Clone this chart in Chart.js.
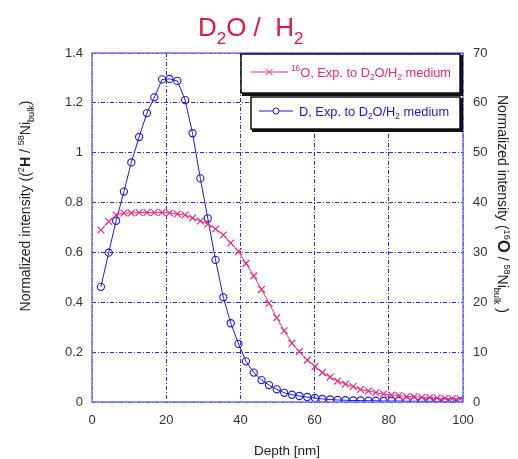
<!DOCTYPE html>
<html>
<head>
<meta charset="utf-8">
<script src="https://cdn.jsdelivr.net/npm/chart.js@4.4.1/dist/chart.umd.min.js"></script>
<style>
  html, body { margin: 0; padding: 0; background: #fff; }
  #wrap { width: 518px; height: 459px; }
</style>
</head>
<body>
<div id="wrap"><canvas id="chart" width="518" height="459"></canvas></div>
<script>
const depth = [2.4, 4.5, 6.5, 8.6, 10.6, 12.7, 14.8, 16.8, 18.9, 20.9, 23.0, 25.1, 27.1, 29.2, 31.2, 33.3,
  35.4, 37.4, 39.5, 41.5, 43.6, 45.7, 47.7, 49.8, 51.8, 53.9, 55.9, 58.0, 60.1, 62.1, 64.2, 66.2,
  68.3, 70.4, 72.4, 74.5, 76.5, 78.6, 80.7, 82.7, 84.8, 86.8, 88.9, 91.0, 93.0, 95.1, 97.1, 99.2];

// D (left axis)
const deuterium = [0.462, 0.599, 0.727, 0.844, 0.961, 1.063, 1.159, 1.222, 1.294, 1.296, 1.288, 1.211, 1.078, 0.897, 0.737, 0.570,
  0.420, 0.316, 0.233, 0.163, 0.118, 0.088, 0.068, 0.051, 0.037, 0.029, 0.024, 0.020, 0.016, 0.012, 0.010, 0.008,
  0.007, 0.006, 0.006, 0.005, 0.005, 0.004, 0.004, 0.004, 0.003, 0.003, 0.003, 0.003, 0.002, 0.002, 0.002, 0.002];

// 16O (right axis)
const oxygen16 = [34.5, 36.2, 37.5, 37.9, 37.9, 38.0, 38.0, 38.0, 38.0, 37.9, 37.7, 37.5, 36.9, 36.3, 35.7, 34.7,
  33.5, 31.9, 30.2, 27.8, 25.3, 22.6, 19.8, 16.9, 14.3, 11.8, 10.1, 8.4, 7.1, 5.9, 5.0, 4.2,
  3.6, 3.1, 2.5, 2.2, 1.9, 1.6, 1.4, 1.3, 1.1, 1.05, 0.95, 0.9, 0.8, 0.75, 0.65, 0.65];

const xTicks = ['0', '20', '40', '60', '80', '100'];
const leftTicks = ['0', '0.2', '0.4', '0.6', '0.8', '1', '1.2', '1.4'];
const rightTicks = ['0', '10', '20', '30', '40', '50', '60', '70'];

const PINK = '#ec2a80';
const BLUE = '#1a1ae6';
const GRID = '#2a2aee';
const FONT = '"Liberation Sans", Arial, sans-serif';

// draws a run of text pieces, some raised, lowered or bold
function richWidth(ctx, segs, size) {
  let w = 0;
  segs.forEach(s => {
    const sz = s.s ? size * 0.65 : (s.big ? size * 1.2 : size);
    ctx.font = (s.b ? 'bold ' : '') + sz + 'px ' + FONT;
    w += ctx.measureText(s.t).width;
  });
  return w;
}
function drawRich(ctx, x, y, segs, size, color, align) {
  let cx = align === 'center' ? x - richWidth(ctx, segs, size) / 2 : x;
  ctx.fillStyle = color;
  ctx.textBaseline = 'alphabetic';
  ctx.textAlign = 'left';
  segs.forEach(s => {
    const sz = s.s ? size * 0.65 : (s.big ? size * 1.2 : size);
    ctx.font = (s.b ? 'bold ' : '') + sz + 'px ' + FONT;
    let dy = 0;
    if (s.s === 'sup') dy = -size * 0.45;
    if (s.s === 'sub') dy = size * 0.3;
    ctx.fillText(s.t, cx, y + dy);
    cx += ctx.measureText(s.t).width;
  });
}

const decor = {
  id: 'decor',
  afterDraw(chart) {
    const ctx = chart.ctx;
    const a = chart.chartArea;
    ctx.save();
    // plot frame
    ctx.strokeStyle = '#7474f4';
    ctx.lineWidth = 1.5;
    ctx.strokeRect(a.left, a.top, a.right - a.left, a.bottom - a.top);

    // title
    drawRich(ctx, 198, 36, [{t: 'D'}, {t: '2', s: 'sub'}, {t: 'O /  H'}, {t: '2', s: 'sub'}], 26, '#e3173e', 'left');

    // x title
    drawRich(ctx, 287, 455, [{t: 'Depth [nm]'}], 13.5, '#222', 'center');

    // left title
    ctx.save();
    ctx.translate(25, 206);
    ctx.rotate(-Math.PI / 2);
    drawRich(ctx, 0, 5, [{t: 'Normalized intensity (('}, {t: '2', s: 'sup'}, {t: 'H', b: true}, {t: ' / '},
      {t: '58', s: 'sup'}, {t: 'Ni'}, {t: 'bulk', s: 'sub'}, {t: ')'}], 14, '#222', 'center');
    ctx.restore();

    // right title
    ctx.save();
    ctx.translate(503, 204);
    ctx.rotate(Math.PI / 2);
    drawRich(ctx, 0, 5, [{t: 'Normalized intensity ('}, {t: '16', s: 'sup'}, {t: 'O', b: true, big: true}, {t: ' / '},
      {t: '58', s: 'sup'}, {t: 'Ni'}, {t: 'bulk', s: 'sub'}, {t: ' )'}], 14, '#222', 'center');
    ctx.restore();

    // legend boxes
    const boxes = [
      {x: 241, y: 54, w: 219, h: 39, color: PINK, style: 'crossRot', lx: 251, ly: 72, lw: 37, tx: 291,
        segs: [{t: '16', s: 'sup'}, {t: 'O, Exp. to D'}, {t: '2', s: 'sub'}, {t: 'O/H'}, {t: '2', s: 'sub'}, {t: ' medium'}]},
      {x: 251, y: 97, w: 209, h: 32, color: BLUE, style: 'circle', lx: 259, ly: 111, lw: 34, tx: 299,
        segs: [{t: 'D, Exp. to D'}, {t: '2', s: 'sub'}, {t: 'O/H'}, {t: '2', s: 'sub'}, {t: ' medium'}]}
    ];
    boxes.forEach(b => {
      ctx.fillStyle = '#111';
      ctx.fillRect(b.x + 1, b.y + 1, b.w + 2, b.h + 2);
      ctx.fillStyle = '#fff';
      ctx.fillRect(b.x, b.y, b.w, b.h);
      ctx.strokeStyle = '#111';
      ctx.lineWidth = 1.5;
      ctx.strokeRect(b.x, b.y, b.w, b.h);
      ctx.strokeStyle = b.color;
      ctx.lineWidth = 1;
      ctx.beginPath();
      ctx.moveTo(b.lx, b.ly);
      ctx.lineTo(b.lx + b.lw, b.ly);
      ctx.stroke();
      Chart.helpers.drawPoint(ctx, {pointStyle: b.style, radius: b.style === 'circle' ? 3 : 4.5, borderWidth: 1.2},
        b.lx + b.lw / 2, b.ly);
      drawRich(ctx, b.tx, b.ly + 4.5, b.segs, 12.8, b.color, 'left');
    });
    ctx.restore();
  }
};

const gridOpts = {color: GRID, lineWidth: 1, drawTicks: false};

new Chart(document.getElementById('chart'), {
  type: 'line',
  data: {
    datasets: [
      {
        label: '16O, Exp. to D2O/H2 medium',
        data: depth.map((d, i) => ({x: d, y: oxygen16[i]})),
        yAxisID: 'y2',
        borderColor: PINK,
        backgroundColor: PINK,
        borderWidth: 1,
        pointStyle: 'crossRot',
        pointRadius: 4.8,
        pointBorderWidth: 1.2,
        tension: 0
      },
      {
        label: 'D, Exp. to D2O/H2 medium',
        data: depth.map((d, i) => ({x: d, y: deuterium[i]})),
        yAxisID: 'y',
        borderColor: BLUE,
        backgroundColor: 'rgba(0,0,0,0)',
        borderWidth: 1,
        pointStyle: 'circle',
        pointRadius: 3.6,
        pointBorderWidth: 1.1,
        tension: 0
      }
    ]
  },
  options: {
    responsive: false,
    animation: false,
    layout: {padding: {top: 53, left: 0, right: 0, bottom: 0}},
    plugins: {legend: {display: false}, tooltip: {enabled: false}},
    scales: {
      x: {
        type: 'linear', min: 0, max: 100,
        afterFit: s => { s.height = 57; },
        afterBuildTicks: s => { s.ticks = xTicks.map(t => ({value: Number(t)})); },
        ticks: {callback: (v, i) => xTicks[i], color: '#333', font: {family: FONT, size: 13}, padding: 11, maxRotation: 0},
        grid: gridOpts,
        border: {display: false, dash: [4, 2, 1, 2]}
      },
      y: {
        position: 'left', min: 0, max: 1.4,
        afterFit: s => { s.width = 92; },
        afterBuildTicks: s => { s.ticks = leftTicks.map(t => ({value: Number(t)})); },
        ticks: {callback: (v, i) => leftTicks[i], color: '#333', font: {family: FONT, size: 13}, padding: 9},
        grid: gridOpts,
        border: {display: false, dash: [4, 2, 1, 2]}
      },
      y2: {
        position: 'right', min: 0, max: 70,
        afterFit: s => { s.width = 55; },
        afterBuildTicks: s => { s.ticks = rightTicks.map(t => ({value: Number(t)})); },
        ticks: {callback: (v, i) => rightTicks[i], color: '#333', font: {family: FONT, size: 13}, padding: 10},
        grid: {display: false, drawTicks: false},
        border: {display: false}
      }
    }
  },
  plugins: [decor]
});
</script>
</body>
</html>
